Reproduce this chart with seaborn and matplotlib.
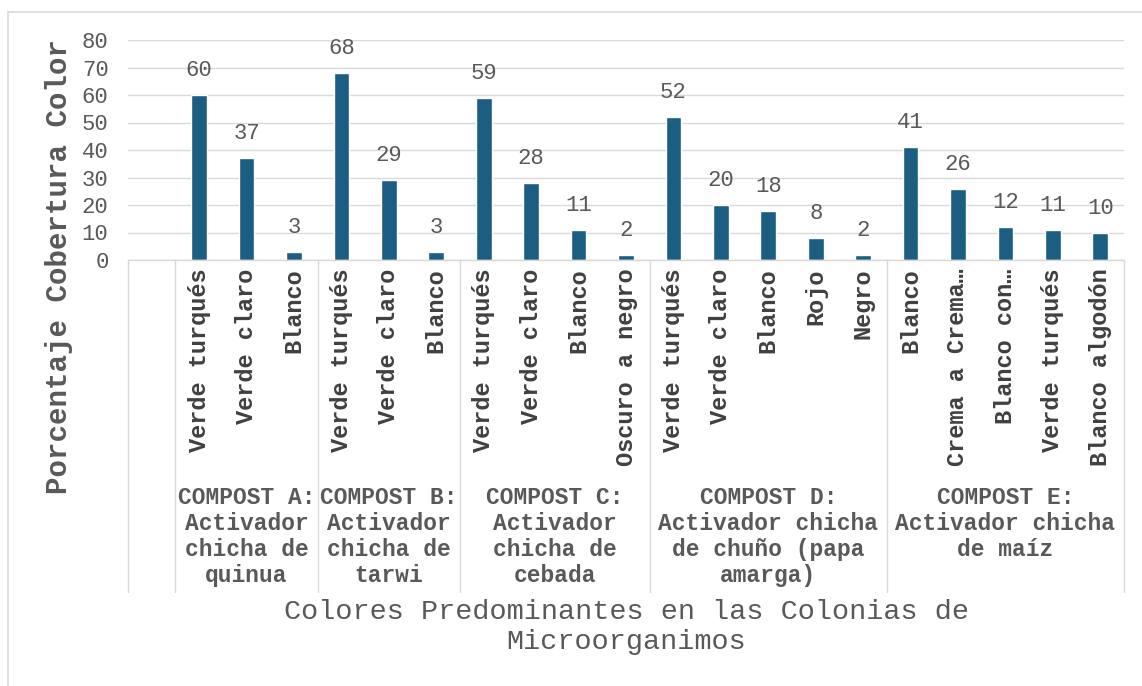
import numpy as np
import pandas as pd
import matplotlib
matplotlib.use("Agg")
import matplotlib.pyplot as plt
import matplotlib.transforms as mtransforms
from matplotlib.lines import Line2D
import seaborn as sns

# ---- data ----
group_labels = [
    "COMPOST A:\nActivador\nchicha de\nquinua",
    "COMPOST B:\nActivador\nchicha de\ntarwi",
    "COMPOST C:\nActivador\nchicha de\ncebada",
    "COMPOST D:\nActivador chicha\nde chuño (papa\namarga)",
    "COMPOST E:\nActivador chicha\nde maíz",
]
colors_A = ["Verde turqués", "Verde claro", "Blanco"]
values_A = [60, 37, 3]
colors_B = ["Verde turqués", "Verde claro", "Blanco"]
values_B = [68, 29, 3]
colors_C = ["Verde turqués", "Verde claro", "Blanco", "Oscuro a negro"]
values_C = [59, 28, 11, 2]
colors_D = ["Verde turqués", "Verde claro", "Blanco", "Rojo", "Negro"]
values_D = [52, 20, 18, 8, 2]
colors_E = ["Blanco", "Crema a Crema…", "Blanco con…", "Verde turqués", "Blanco algodón"]
values_E = [41, 26, 12, 11, 10]
y_ticks = [0, 10, 20, 30, 40, 50, 60, 70, 80]
y_title = "Porcentaje Cobertura Color"
x_title = "Colores Predominantes en las Colonias de\nMicroorganimos"

all_colors = [colors_A, colors_B, colors_C, colors_D, colors_E]
all_values = [values_A, values_B, values_C, values_D, values_E]

rows = []
for gi, (cs, vs) in enumerate(zip(all_colors, all_values)):
    for ci, (c, v) in enumerate(zip(cs, vs)):
        rows.append({"key": f"{gi}_{ci}", "label": c, "value": v})
df = pd.DataFrame(rows)
order = ["__blank__"] + list(df["key"])
tick_labels = [""] + list(df["label"])

# ---- style ----
sns.set_style("white")
plt.rcParams["font.family"] = ["Liberation Mono", "DejaVu Sans"]

BAR = "#1B5E82"
GRID = "#d9d9d9"
TXT = "#595959"
CAT = "#404040"

W, H = 1142, 686
fig = plt.figure(figsize=(W / 100, H / 100), dpi=100)
fig.patch.set_facecolor("white")
ax = fig.add_axes([128 / W, 1 - 260 / H, (1124 - 128) / W, 220 / H])

sns.barplot(data=df, x="key", y="value", order=order, color=BAR,
            saturation=1, width=0.33, ax=ax, errorbar=None)

ax.set_xlim(-0.5, len(order) - 0.5)
ax.set_ylim(0, 80)
ax.set_yticks(y_ticks)
ax.set_yticklabels([str(t) for t in y_ticks], fontsize=16, color=TXT)
ax.tick_params(axis="y", length=0, pad=14)
ax.yaxis.grid(True, color=GRID, linewidth=1)
ax.set_axisbelow(True)

ax.set_xticks(range(len(order)))
ax.set_xticklabels(tick_labels, rotation=90, fontsize=17, fontweight="bold", color=CAT)
ax.tick_params(axis="x", length=0, pad=6)
ax.set_xlabel("")
ax.set_ylabel("")

for s in ["top", "left", "right"]:
    ax.spines[s].set_visible(False)
ax.spines["bottom"].set_color(GRID)
ax.spines["bottom"].set_linewidth(1)

for cont in ax.containers:
    ax.bar_label(cont, fmt="%g", padding=10, fontsize=16, color=TXT)

# ---- multi-level category table ----
trans = mtransforms.blended_transform_factory(ax.transData, fig.transFigure)
y_top = 1 - 260 / H
y_bot = 1 - 592 / H
bounds = [-0.5, 0.5]
pos = 0.5
for cs in all_colors:
    pos += len(cs)
    bounds.append(pos)
for b in bounds:
    ax.plot([b, b], [y_top, y_bot], color=GRID, linewidth=1, transform=trans, clip_on=False)

start = 0.5
for gl, cs in zip(group_labels, all_colors):
    end = start + len(cs)
    ax.text((start + end) / 2, 1 - 486 / H, gl, transform=trans, ha="center", va="top",
            multialignment="center", fontsize=16.5, fontweight="bold", color=TXT,
            linespacing=1.17)
    start = end

# ---- titles ----
fig.text(59 / W, 1 - 266 / H, y_title, rotation=90, ha="center", va="center",
         fontsize=21, fontweight="bold", color=TXT)
fig.text(626 / W, 1 - 627 / H, x_title, ha="center", va="center",
         fontsize=20.5, color=TXT, linespacing=1.2)

# ---- chart border ----
fig.add_artist(Line2D([8 / W, 8 / W], [0, 1 - 12 / H], color=GRID, linewidth=1.2))
fig.add_artist(Line2D([8 / W, 1], [1 - 12 / H, 1 - 12 / H], color=GRID, linewidth=1.2))

fig.savefig("out.png", dpi=100, facecolor="white")
